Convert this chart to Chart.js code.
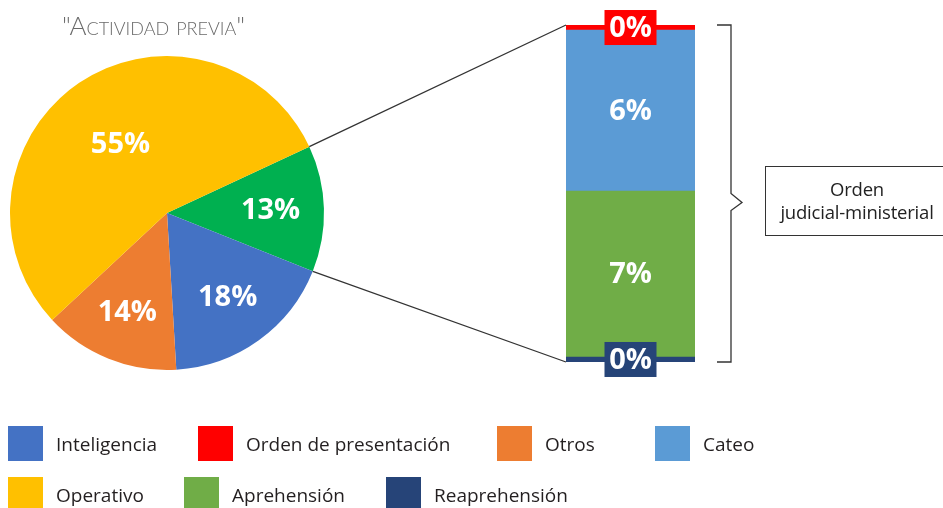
<!DOCTYPE html>
<html>
<head>
<meta charset="utf-8">
<script src="https://cdn.jsdelivr.net/npm/chart.js@4.4.0/dist/chart.umd.min.js"></script>
<style>
    html, body { margin: 0; padding: 0; background: #fff; }
    #wrap { position: relative; width: 943px; height: 508px; overflow: hidden; font-family: 'Open Sans', sans-serif; }
    #wrap canvas { position: absolute; left: 0; top: 0; }
    #title { position: absolute; left: 62px; top: 9px; font-family: Lato, sans-serif; font-weight: 300; font-variant: small-caps; font-size: 26px; color: #6a6a6a; white-space: nowrap; }
    #note { position: absolute; left: 765px; top: 166px; width: 184px; height: 70px; box-sizing: border-box; border: 1px solid #333; font-size: 18.5px; line-height: 23px; color: #222; text-align: center; padding-top: 10px; letter-spacing: -0.2px; }
    .leg { position: absolute; display: flex; align-items: center; height: 35px; font-size: 19px; color: #231f20; white-space: nowrap; }
    .leg .box { width: 35px; height: 35px; margin-right: 13px; }
</style>
</head>
<body>
<div id="wrap">
    <canvas id="pie" width="943" height="508"></canvas>
    <canvas id="bar" width="943" height="508"></canvas>
    <div id="title">"Actividad previa"</div>
    <div id="note">Orden<br>judicial-ministerial</div>
</div>
<script>
// pie: share of each type of previous activity (%)
const pieLabels = ['Orden judicial-ministerial', 'Inteligencia', 'Otros', 'Operativo'];
const pieValues = [13, 18, 14, 55];
const pieColors = ['#00b050', '#4472c4', '#ed7d31', '#ffc000'];

// bar: breakdown of "Orden judicial-ministerial", bottom to top (%)
const barLabels = ['Reaprehensión', 'Aprehensión', 'Cateo', 'Orden de presentación'];
const barValues = [0.2, 6.6, 6.4, 0.2];
const barColors = ['#264478', '#70ad47', '#5b9bd5', '#ff0000'];

// legend rows as in the figure
const legendRow1 = ['Inteligencia', 'Orden de presentación', 'Otros', 'Cateo'];
const legendRow2 = ['Operativo', 'Aprehensión', 'Reaprehensión'];
const legendLeft1 = [8, 198, 497, 655];
const legendLeft2 = [8, 184, 386];

const pct = v => Math.round(v) + '%';
const labelFont = 'bold 29px "Open Sans"';
const pieLabelRadius = [0.66, 0.66, 0.68, 0.53];

const pieLabelPlugin = {
    id: 'pieLabels',
    afterDatasetsDraw(chart) {
        const ctx = chart.ctx;
        const arcs = chart.getDatasetMeta(0).data;
        ctx.save();
        ctx.font = labelFont;
        ctx.fillStyle = '#fff';
        ctx.textAlign = 'center';
        ctx.textBaseline = 'middle';
        arcs.forEach((arc, i) => {
            const mid = (arc.startAngle + arc.endAngle) / 2;
            const r = arc.outerRadius * pieLabelRadius[i];
            ctx.fillText(pct(pieValues[i]), arc.x + Math.cos(mid) * r, arc.y + Math.sin(mid) * r + 1);
        });
        ctx.restore();
    }
};

const pieChart = new Chart(document.getElementById('pie'), {
    type: 'pie',
    data: {
        labels: pieLabels,
        datasets: [{ data: pieValues, backgroundColor: pieColors, borderWidth: 0 }]
    },
    options: {
        responsive: false,
        animation: false,
        rotation: 65,
        layout: { padding: { left: 10, top: 56, right: 619, bottom: 138 } },
        plugins: { legend: { display: false }, tooltip: { enabled: false } }
    },
    plugins: [pieLabelPlugin]
});

const barDecorPlugin = {
    id: 'barDecor',
    afterDatasetsDraw(chart) {
        const ctx = chart.ctx;
        const metas = chart.data.datasets.map((_, i) => chart.getDatasetMeta(i).data[0]);
        ctx.save();
        // segment labels
        ctx.font = labelFont;
        ctx.textAlign = 'center';
        ctx.textBaseline = 'middle';
        metas.forEach((bar, i) => {
            const cy = (bar.y + bar.base) / 2;
            if (Math.round(barValues[i]) === 0) {
                ctx.fillStyle = barColors[i];
                ctx.fillRect(bar.x - 26, cy - 17.5, 52, 35);
            }
            ctx.fillStyle = '#fff';
            ctx.fillText(pct(barValues[i]), bar.x, cy + 1);
        });
        // lines from the pie slice to the bar
        const slice = pieChart.getDatasetMeta(0).data[0];
        const top = metas[metas.length - 1].y;
        const bottom = metas[0].base;
        const left = metas[0].x - metas[0].width / 2;
        const right = metas[0].x + metas[0].width / 2;
        ctx.strokeStyle = '#333';
        ctx.lineWidth = 1.3;
        ctx.beginPath();
        ctx.moveTo(slice.x + Math.cos(slice.startAngle) * slice.outerRadius, slice.y + Math.sin(slice.startAngle) * slice.outerRadius);
        ctx.lineTo(left, top);
        ctx.moveTo(slice.x + Math.cos(slice.endAngle) * slice.outerRadius, slice.y + Math.sin(slice.endAngle) * slice.outerRadius);
        ctx.lineTo(left, bottom);
        ctx.stroke();
        // bracket
        const bx = right + 36;
        const mid = (top + bottom) / 2;
        ctx.beginPath();
        ctx.moveTo(bx - 14, top);
        ctx.lineTo(bx, top);
        ctx.lineTo(bx, mid);
        ctx.lineTo(bx + 11, mid + 9);
        ctx.lineTo(bx, mid + 17);
        ctx.lineTo(bx, bottom);
        ctx.lineTo(bx - 14, bottom);
        ctx.stroke();
        ctx.restore();
    }
};

const barTotal = barValues.reduce((a, b) => a + b, 0);
new Chart(document.getElementById('bar'), {
    type: 'bar',
    data: {
        labels: [''],
        datasets: barLabels.map((label, i) => ({
            label: label,
            data: [barValues[i]],
            backgroundColor: barColors[i],
            borderWidth: 0,
            barPercentage: 1,
            categoryPercentage: 1
        }))
    },
    options: {
        responsive: false,
        animation: false,
        layout: { padding: { left: 566, right: 248, top: 25, bottom: 146 } },
        scales: {
            x: { display: false, stacked: true },
            y: { display: false, stacked: true, min: 0, max: barTotal }
        },
        plugins: { legend: { display: false }, tooltip: { enabled: false } }
    },
    plugins: [barDecorPlugin]
});

// legend built from both charts' categories
const colorOf = {};
pieLabels.forEach((l, i) => colorOf[l] = pieColors[i]);
barLabels.forEach((l, i) => colorOf[l] = barColors[i]);
const wrap = document.getElementById('wrap');
function addLegendRow(items, lefts, top) {
    items.forEach((label, i) => {
        const el = document.createElement('div');
        el.className = 'leg';
        el.style.left = lefts[i] + 'px';
        el.style.top = top + 'px';
        el.innerHTML = '<span class="box" style="background:' + colorOf[label] + '"></span><span>' + label + '</span>';
        wrap.appendChild(el);
    });
}
addLegendRow(legendRow1, legendLeft1, 426);
addLegendRow(legendRow2, legendLeft2, 477);
</script>
</body>
</html>
